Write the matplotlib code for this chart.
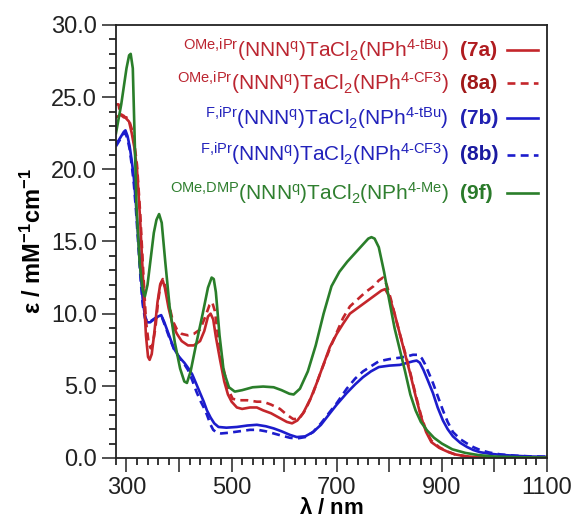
import numpy as np
import matplotlib
matplotlib.use('Agg')
import matplotlib.pyplot as plt
from matplotlib.ticker import MultipleLocator, FixedLocator

plt.rcParams['font.family'] = ['Liberation Sans', 'DejaVu Sans']
plt.rcParams['mathtext.fontset'] = 'custom'
plt.rcParams['mathtext.rm'] = 'Liberation Sans'
plt.rcParams['mathtext.it'] = 'Liberation Sans'
plt.rcParams['mathtext.bf'] = 'Liberation Sans:bold'
plt.rcParams['mathtext.default'] = 'regular'

# 9f (green)
wl_9f = [280, 290, 300, 305, 308, 312, 319, 325, 331, 335, 340, 346, 352, 357, 362, 367, 374, 382,
         392, 402, 410, 415, 422, 432, 445, 455, 462, 466, 470, 477, 485, 495, 506, 520, 540, 560,
         580, 595, 610, 618, 630, 645, 660, 675, 690, 705, 720, 735, 750, 760, 766, 772, 780, 790,
         800, 810, 820, 830, 840, 850, 860, 872, 885, 900, 920, 945, 970, 1000, 1050, 1100]
eps_9f = [22.5, 24.5, 27.0, 27.9, 28.0, 27.0, 17.4, 13.5, 11.6, 11.2, 12.0, 13.8, 15.6, 16.5, 16.9,
          16.3, 13.5, 10.5, 8.0, 6.2, 5.3, 5.2, 6.0, 7.8, 10.0, 11.8, 12.5, 12.4, 11.5, 8.5, 6.0,
          4.9, 4.6, 4.7, 4.9, 4.95, 4.9, 4.7, 4.45, 4.4, 4.8, 6.0, 7.8, 10.0, 11.9, 12.9, 13.6,
          14.2, 14.8, 15.2, 15.3, 15.2, 14.6, 12.9, 10.9, 9.0, 7.5, 6.0, 4.4, 3.3, 2.5, 1.9, 1.4,
          1.0, 0.6, 0.35, 0.2, 0.1, 0.05, 0.03]

# 7a (red solid)
wl_7a = [280, 285, 290, 295, 300, 305, 310, 315, 320, 326, 332, 337, 341, 344, 348, 353, 359, 364,
         369, 373, 380, 388, 396, 405, 417, 428, 440, 448, 455, 460, 465, 470, 478, 486, 493, 500,
         510, 520, 535, 548, 560, 575, 590, 605, 615, 625, 636, 650, 662, 675, 687, 700, 712, 725,
         740, 755, 770, 785, 792, 800, 810, 820, 830, 840, 850, 860, 870, 880, 895, 910, 925, 945,
         970, 1000, 1100]
eps_7a = [23.6, 23.7, 23.8, 23.7, 23.5, 23.3, 22.5, 21.5, 20.0, 16.5, 12.0, 8.5, 7.0, 6.8, 7.2, 8.7,
          10.8, 12.0, 12.3, 11.8, 10.4, 9.2, 8.6, 8.1, 7.8, 7.8, 8.1, 8.8, 9.8, 10.0, 9.6, 8.4,
          6.8, 5.3, 4.4, 3.9, 3.5, 3.4, 3.5, 3.5, 3.3, 3.1, 2.8, 2.5, 2.4, 2.6, 3.1, 4.1, 5.2,
          6.5, 7.7, 8.6, 9.3, 10.0, 10.4, 10.8, 11.2, 11.6, 11.7, 11.2, 10.0, 8.6, 7.2, 5.8, 4.3,
          2.9, 1.8, 1.1, 0.7, 0.45, 0.25, 0.12, 0.05, 0.02, 0.0]

# 8a (red dashed)
wl_8a = [280, 285, 288, 295, 300, 305, 310, 315, 320, 326, 332, 337, 342, 346, 350, 355, 360, 365,
         369, 373, 380, 388, 396, 405, 417, 428, 440, 450, 458, 463, 468, 474, 484, 493, 502, 515,
         530, 548, 560, 575, 592, 605, 617, 628, 640, 655, 670, 687, 700, 712, 725, 740, 755, 770,
         780, 788, 795, 803, 810, 820, 830, 840, 850, 860, 870, 880, 895, 910, 925, 945, 970, 1000,
         1100]
eps_8a = [24.5, 24.5, 23.8, 23.6, 23.6, 23.4, 22.8, 21.8, 20.3, 17.0, 12.8, 9.5, 8.0, 7.6, 7.9, 9.0,
          10.8, 12.1, 12.4, 12.0, 10.8, 9.5, 8.9, 8.6, 8.5, 8.6, 8.9, 9.8, 10.6, 10.8, 10.2, 8.5,
          6.3, 4.8, 4.1, 4.0, 4.0, 3.9, 3.9, 3.7, 3.4, 3.0, 2.7, 2.7, 3.3, 4.5, 6.0, 7.6, 8.7,
          9.7, 10.5, 11.0, 11.5, 11.9, 12.3, 12.5, 12.0, 11.0, 10.0, 8.6, 7.3, 5.9, 4.4, 3.0,
          1.9, 1.2, 0.75, 0.45, 0.25, 0.12, 0.05, 0.02, 0.0]

# 7b (blue solid)
wl_7b = [280, 285, 290, 295, 298, 302, 306, 310, 314, 318, 322, 327, 331, 335, 339, 345, 352, 360,
         366, 372, 380, 390, 400, 410, 418, 425, 432, 440, 447, 453, 460, 467, 475, 490, 510, 530,
         548, 565, 580, 595, 611, 624, 640, 655, 670, 687, 700, 719, 735, 750, 765, 780, 800, 820,
         835, 845, 852, 858, 865, 873, 883, 892, 902, 911, 921, 935, 948, 960, 973, 990, 1011,
         1040, 1070, 1100]
eps_7b = [21.8, 22.0, 22.3, 22.6, 22.7, 22.3, 21.6, 20.6, 19.4, 17.6, 15.5, 12.8, 10.9, 9.9, 9.4,
          9.4, 9.6, 9.8, 9.9, 9.4, 8.6, 7.6, 7.0, 6.6, 6.2, 5.8, 5.2, 4.5, 3.9, 3.3, 2.8, 2.4,
          2.15, 2.1, 2.15, 2.25, 2.3, 2.2, 2.05, 1.85, 1.6, 1.45, 1.5, 1.8, 2.3, 3.1, 3.7, 4.5,
          5.1, 5.6, 6.0, 6.3, 6.4, 6.45, 6.6, 6.7, 6.75, 6.6, 6.1, 5.4, 4.5, 3.5, 2.6, 2.0, 1.5,
          1.05, 0.76, 0.55, 0.4, 0.3, 0.22, 0.15, 0.1, 0.08]

# 8b (blue dashed)
wl_8b = [280, 285, 290, 295, 298, 302, 306, 310, 314, 318, 322, 327, 331, 335, 341, 347, 355, 362,
         367, 373, 382, 392, 402, 410, 417, 425, 433, 440, 447, 453, 460, 465, 472, 480, 495, 515,
         535, 550, 565, 580, 595, 611, 624, 640, 655, 670, 687, 700, 719, 735, 750, 765, 780, 800,
         820, 835, 845, 855, 862, 868, 875, 883, 892, 902, 911, 921, 935, 948, 960, 973, 990, 1011,
         1040, 1070, 1100]
eps_8b = [21.6, 21.9, 22.2, 22.5, 22.5, 22.1, 21.4, 20.3, 19.0, 17.2, 15.0, 12.3, 10.6, 9.7, 9.4,
          9.5, 9.7, 9.8, 9.8, 9.2, 8.3, 7.4, 6.9, 6.5, 6.1, 5.4, 4.6, 4.0, 3.5, 3.0, 2.3, 1.95,
          1.75, 1.7, 1.75, 1.85, 1.95, 1.95, 1.85, 1.7, 1.55, 1.4, 1.35, 1.45, 1.8, 2.4, 3.2, 3.8,
          4.8, 5.5, 6.0, 6.35, 6.7, 6.85, 6.95, 7.05, 7.15, 7.15, 6.9, 6.5, 5.9, 5.2, 4.3, 3.3,
          2.5, 1.8, 1.3, 1.0, 0.75, 0.55, 0.38, 0.25, 0.16, 0.11, 0.09]

labels = [r'$^{\text{OMe,iPr}}$(NNN$^{\text{q}}$)TaCl$_{\text{2}}$(NPh$^{\text{4-tBu}}$)',
          r'$^{\text{OMe,iPr}}$(NNN$^{\text{q}}$)TaCl$_{\text{2}}$(NPh$^{\text{4-CF3}}$)',
          r'$^{\text{F,iPr}}$(NNN$^{\text{q}}$)TaCl$_{\text{2}}$(NPh$^{\text{4-tBu}}$)',
          r'$^{\text{F,iPr}}$(NNN$^{\text{q}}$)TaCl$_{\text{2}}$(NPh$^{\text{4-CF3}}$)',
          r'$^{\text{OMe,DMP}}$(NNN$^{\text{q}}$)TaCl$_{\text{2}}$(NPh$^{\text{4-Me}}$)']
codes = ['(7a)', '(8a)', '(7b)', '(8b)', '(9f)']

red = '#c4262b'
blue = '#1c1ccc'
green = '#2a7e2a'
txt_cols = ['#bb2530', '#bb2530', '#2222bb', '#2222bb', '#2f7f2f']
code_cols = ['#b01c20', '#a01818', '#2020b0', '#1a1aa0', '#2a7a2a']
line_cols = [red, red, blue, blue, green]
line_ls = ['-', '--', '-', '--', '-']

fig = plt.figure(figsize=(5.75, 5.23), dpi=100)
ax = fig.add_axes([0.2017, 0.1243, 0.7496, 0.8279])

lw = 1.9
ax.plot(wl_8b, eps_8b, color=blue, lw=lw, dashes=(3, 2))
ax.plot(wl_7b, eps_7b, color=blue, lw=lw)
ax.plot(wl_8a, eps_8a, color=red, lw=lw, dashes=(3, 2))
ax.plot(wl_7a, eps_7a, color=red, lw=lw)
ax.plot(wl_9f, eps_9f, color=green, lw=lw)

ax.set_xlim(280, 1100)
ax.set_ylim(0, 30)

ax.xaxis.set_major_locator(FixedLocator(range(300, 1101, 100)))
ax.set_xticklabels([str(v) if v % 200 == 100 else '' for v in range(300, 1101, 100)])
ax.xaxis.set_minor_locator(MultipleLocator(20))
ax.yaxis.set_major_locator(MultipleLocator(5))
ax.yaxis.set_minor_locator(MultipleLocator(1))
ax.set_yticklabels(['%.1f' % v for v in ax.get_yticks()])

ax.tick_params(axis='both', which='major', direction='out', length=10, width=1.1,
               labelsize=17, colors='#222222')
ax.tick_params(axis='x', which='major', pad=4)
ax.tick_params(axis='both', which='minor', direction='out', length=5, width=1.1)
ax.tick_params(top=False, right=False)
for s in ax.spines.values():
    s.set_linewidth(1.3)
    s.set_color('#222222')

ax.set_xlabel(r'$\mathbf{\lambda}$ / nm', fontsize=16, fontweight='bold', labelpad=-1)
ax.set_ylabel(r'ε / mM$^{\mathbf{-1}}$cm$^{\mathbf{-1}}$', fontsize=17, fontweight='bold', labelpad=4)

# legend as text rows
rows_y = [0.942, 0.866, 0.785, 0.700, 0.612]
for i in range(5):
    y = rows_y[i]
    ax.text(0.772, y, labels[i], transform=ax.transAxes, ha='right', va='center',
            fontsize=15, color=txt_cols[i])
    ax.text(0.797, y, codes[i], transform=ax.transAxes, ha='left', va='center',
            fontsize=15, fontweight='bold', color=code_cols[i])
    if line_ls[i] == '--':
        ax.plot([0.907, 0.979], [y, y], transform=ax.transAxes, color=line_cols[i],
                lw=lw, dashes=(3, 2))
    else:
        ax.plot([0.907, 0.979], [y, y], transform=ax.transAxes, color=line_cols[i], lw=lw)

fig.savefig('out.png', dpi=100)
